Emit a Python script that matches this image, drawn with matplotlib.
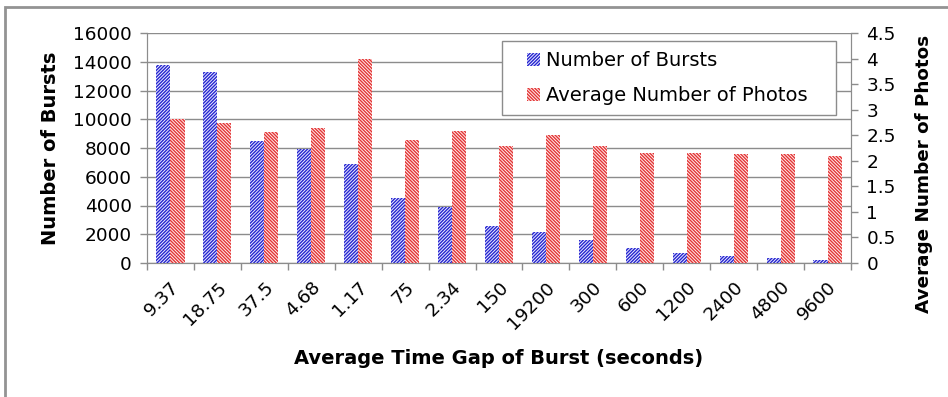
import matplotlib
matplotlib.use("Agg")
import matplotlib.pyplot as plt
import matplotlib.transforms as mtransforms
import numpy as np
from matplotlib.ticker import FuncFormatter, FixedLocator
from matplotlib.patches import Rectangle

plt.rcParams['font.family'] = ['DejaVu Sans']
plt.rcParams['hatch.linewidth'] = 1.0

categories = ["9.37", "18.75", "37.5", "4.68", "1.17", "75", "2.34", "150",
              "19200", "300", "600", "1200", "2400", "4800", "9600"]
num_bursts = [13800, 13300, 8500, 7950, 6900, 4550, 3900, 2600,
              2150, 1600, 1050, 680, 490, 370, 230]
avg_photos = [2.81, 2.73, 2.56, 2.64, 4.0, 2.41, 2.58, 2.29,
              2.50, 2.29, 2.15, 2.15, 2.13, 2.13, 2.09]

blue = "#2626d0"
red = "#e33535"
grey = "#8c8c8c"
tick_fs = 13.3
label_fs = 14

fig = plt.figure(figsize=(9.48, 3.97), dpi=100)
fig.patch.set_facecolor("white")

# outer frame (left and top edges visible)
fig.patches.append(Rectangle((5 / 948, -0.1), 1.2, (1 - 7 / 397) + 0.1,
                             transform=fig.transFigure, fill=False,
                             edgecolor="#939393", linewidth=2.0))

ax = fig.add_axes([147 / 948, 1 - 263 / 397, (851 - 147) / 948, (263 - 33) / 397])
ax2 = ax.twinx()

x = np.arange(len(categories))
w = 0.3
ax.bar(x - w / 2, num_bursts, width=w, facecolor="#eeeeff", edgecolor=blue,
       hatch="//////////", linewidth=0, label="Number of Bursts", zorder=3)
ax2.bar(x + w / 2, avg_photos, width=w, facecolor="#ffeeee", edgecolor=red,
        hatch="\\\\\\\\\\\\\\\\\\\\", linewidth=0, label="Average Number of Photos", zorder=3)

ax.set_xlim(-0.5, len(categories) - 0.5)
ax.set_ylim(0, 16000)
ax2.set_ylim(0, 4.5)
ax.set_yticks(np.arange(0, 16001, 2000))
ax2.set_yticks(np.arange(0, 4.51, 0.5))
ax2.yaxis.set_major_formatter(FuncFormatter(lambda v, p: "%g" % v))

ax.yaxis.grid(True, color=grey, linewidth=1.0, zorder=0)
ax.set_axisbelow(True)

ax.set_xticks(x)
ax.set_xticklabels(categories, rotation=45, ha="right", va="top",
                   rotation_mode="anchor", fontsize=tick_fs)
shift = mtransforms.ScaledTranslation(-4 / 100, 0, fig.dpi_scale_trans)
for lbl in ax.get_xticklabels():
    lbl.set_transform(lbl.get_transform() + shift)
ax.xaxis.set_minor_locator(FixedLocator(np.arange(-0.5, len(categories), 1.0)))
ax.tick_params(axis="x", which="major", length=0, pad=11)
ax.tick_params(axis="x", which="minor", length=5, color=grey, width=1)
ax.tick_params(axis="y", length=5, color=grey, width=1, labelsize=tick_fs, pad=6)
ax2.tick_params(axis="y", length=5, color=grey, width=1, labelsize=tick_fs, pad=6)

for a in (ax, ax2):
    for s in a.spines.values():
        s.set_color(grey)
    a.spines["top"].set_visible(False)

ax.set_ylabel("Number of Bursts", fontsize=label_fs, fontweight="bold")
ax.yaxis.set_label_coords((51 - 147) / 704, 0.5)
ax.yaxis.label.set_verticalalignment("center")

ax2.set_ylabel("Average Number of Photos", fontsize=13.2, fontweight="bold")
ax2.yaxis.set_label_coords((924 - 147) / 704, (263 - 174) / 230)
ax2.yaxis.label.set_verticalalignment("center")

ax.set_xlabel("Average Time Gap of Burst (seconds)", fontsize=label_fs,
              fontweight="bold")
ax.xaxis.set_label_coords(0.5, -(358 - 263) / 230)
ax.xaxis.label.set_verticalalignment("center")

# legend box with white fill, entries placed inside it
ax2.add_patch(Rectangle((0.504, 0.643), 0.979 - 0.504, 0.965 - 0.643,
                        transform=ax2.transAxes, facecolor="white",
                        edgecolor=grey, linewidth=1.0, zorder=9))
h1, l1 = ax.get_legend_handles_labels()
h2, l2 = ax2.get_legend_handles_labels()
leg = ax2.legend(h1 + h2, l1 + l2, loc="center left",
                 bbox_to_anchor=(0.540, 0.804),
                 fontsize=label_fs, frameon=False,
                 handlelength=0.65, handleheight=0.65,
                 handletextpad=0.3, borderpad=0, labelspacing=0.8,
                 borderaxespad=0)
leg.set_zorder(10)

fig.savefig("out.png", dpi=100)
